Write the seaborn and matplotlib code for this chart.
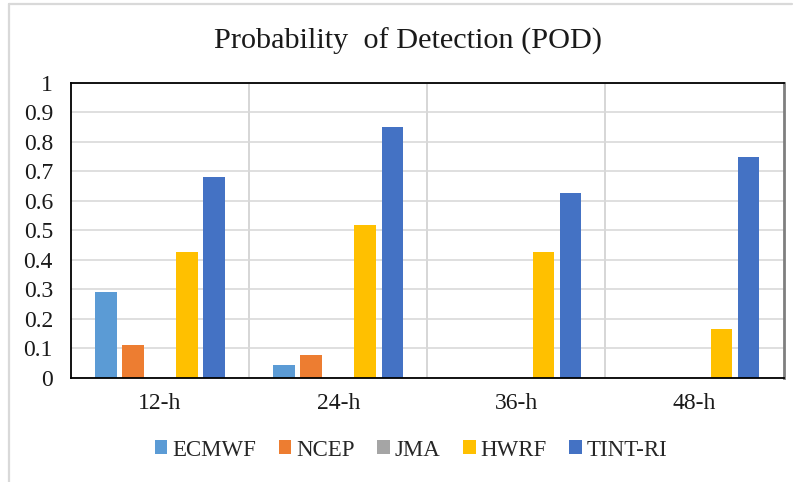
import matplotlib
matplotlib.use("Agg")
import matplotlib.pyplot as plt
import seaborn as sns
import pandas as pd
from matplotlib.lines import Line2D
from matplotlib.patches import Patch

categories = ["12-h", "24-h", "36-h", "48-h"]
models = ["ECMWF", "NCEP", "JMA", "HWRF", "TINT-RI"]
ecmwf = [0.29, 0.042, 0.0, 0.0]
ncep = [0.11, 0.077, 0.0, 0.0]
jma = [0.0, 0.0, 0.0, 0.0]
hwrf = [0.425, 0.519, 0.425, 0.165]
tint = [0.68, 0.85, 0.626, 0.748]
colors = ["#5B9BD5", "#ED7D31", "#A5A5A5", "#FFC000", "#4472C4"]

rows = []
for name, vals in zip(models, [ecmwf, ncep, jma, hwrf, tint]):
    for c, v in zip(categories, vals):
        rows.append({"Lead": c, "Model": name, "POD": v})
df = pd.DataFrame(rows)

sns.set_theme(style="white")
plt.rcParams["font.family"] = ["Liberation Serif", "DejaVu Serif"]

fig = plt.figure(figsize=(7.94, 4.82), dpi=100)
ax = fig.add_axes([71/794, 1-377.7/482, (783.5-71)/794, (377.7-83)/482])

sns.barplot(data=df, x="Lead", y="POD", hue="Model", hue_order=models,
            order=categories, palette=colors, width=0.76, gap=0.2,
            saturation=1, ax=ax, legend=False, edgecolor="none")

ax.set_ylim(0, 1)
ax.set_xlim(-0.5, 3.5)
ax.set_yticks([i/10 for i in range(11)])
ax.set_yticklabels(["0"] + [f"{i/10:.1f}" for i in range(1, 10)] + ["1"])
ax.yaxis.grid(True, color="#d9d9d9", linewidth=1.2)
for xv in [0.5, 1.5, 2.5]:
    ax.axvline(xv, color="#d0d0d0", linewidth=1.2, zorder=0)
ax.set_axisbelow(True)
ax.set_xlabel("")
ax.set_ylabel("")
ax.tick_params(axis="both", which="both", length=0, labelsize=17, colors="#1a1a1a")
ax.tick_params(axis="y", pad=13)
ax.tick_params(axis="x", pad=11)
for s in ["left", "top", "bottom"]:
    ax.spines[s].set_color("black")
    ax.spines[s].set_linewidth(1.3)
ax.spines["right"].set_color("#7f7f7f")
ax.spines["right"].set_linewidth(2)

fig.text(408/794, 1-41/482, "Probability  of Detection (POD)", ha="center", va="center",
         fontsize=21.8, color="#1a1a1a")

handles = [Patch(facecolor=c, edgecolor="none") for c in colors]
fig.legend(handles, models, loc="center", bbox_to_anchor=(411/794, 1-450/482), ncol=5,
           frameon=False, fontsize=16.5, handlelength=0.55, handleheight=0.55,
           handletextpad=0.2, columnspacing=1.0)

fig.add_artist(Line2D([8.5/794, 8.5/794], [0, 1-4/482], color="#d9d9d9", linewidth=1.6))
fig.add_artist(Line2D([8.5/794, 792/794], [1-4/482, 1-4/482], color="#d9d9d9", linewidth=1.6))

fig.savefig("out.png", dpi=100)
